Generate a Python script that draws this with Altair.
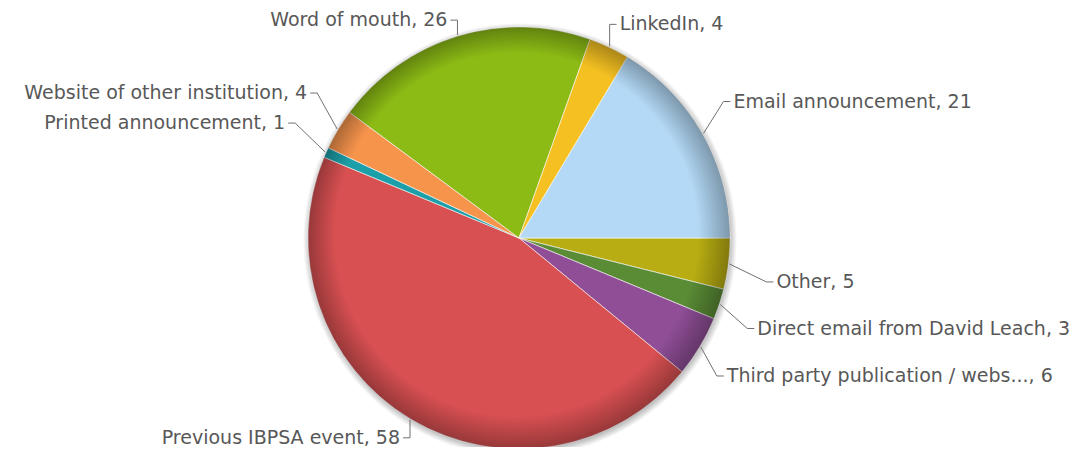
import math
import altair as alt
import pandas as pd

# ---------------- data ----------------
categories = [
    "Other",
    "Direct email from David Leach",
    "Third party publication / webs...",
    "Previous IBPSA event",
    "Printed announcement",
    "Website of other institution",
    "Word of mouth",
    "LinkedIn",
    "Email announcement",
]
values = [5, 3, 6, 58, 1, 4, 26, 4, 21]
colors = ["#b8ad12", "#5a8b35", "#8f4e96", "#d95052", "#1c9fa8",
          "#f7944c", "#8cbb15", "#f5c122", "#b3d9f6"]

# ---------------- layout ----------------
W, H = 1068, 439
CX, CY = 511, 230          # pie centre (chart coords)
R = 211                    # pie radius
START = math.pi / 2        # first slice starts at 3 o'clock, clockwise
STUB, GAP = 7, 3
FONT_SIZE = 19
# elbow of each leader line, relative to the slice's edge point
elbow_offset = {
    "Other": (37, 18),
    "Direct email from David Leach": (27, 24),
    "Third party publication / webs...": (16, 29),
    "Previous IBPSA event": (0, 18),
    "Printed announcement": (-30, -29),
    "Website of other institution": (-20, -36),
    "Word of mouth": (0, -15),
    "LinkedIn": (0, -22),
    "Email announcement": (20, -32),
}

total = sum(values)
rows, line_rows, text_rows = [], [], []
cum = 0.0
for i, (c, v) in enumerate(zip(categories, values)):
    rows.append({"category": c, "value": v, "idx": i})
    a = START + (cum + v / 2) / total * 2 * math.pi
    cum += v
    ex = CX + (R + 1) * math.sin(a)
    ey = CY - (R + 1) * math.cos(a)
    dx, dy = elbow_offset[c]
    bx, by = ex + dx, ey + dy
    side = 1 if math.sin(a) > 0 else -1
    sx = bx + side * STUB
    label = f"{c}, {v}"
    for k, (px, py) in enumerate([(ex, ey), (bx, by), (sx, by)]):
        line_rows.append({"label": label, "k": k, "x": px, "y": py})
    text_rows.append({"label": label, "x": sx + side * GAP, "y": by, "side": side})

df = pd.DataFrame(rows)
lines = pd.DataFrame(line_rows)
texts = pd.DataFrame(text_rows)
one = pd.DataFrame({"a": [1]})

xs = alt.Scale(domain=[0, W], range=[0, W], nice=False, zero=False)
ys = alt.Scale(domain=[0, H], range=[0, H], nice=False, zero=False)

shadow = alt.Chart(one).mark_arc(
    outerRadius=R + 6, theta=0, theta2=2 * math.pi,
    fill={"gradient": "radial", "x1": 0.5, "y1": 0.5, "r1": 0,
          "x2": 0.5, "y2": 0.5, "r2": 0.5,
          "stops": [{"offset": 0, "color": "rgba(0,0,0,0.35)"},
                    {"offset": 0.96, "color": "rgba(0,0,0,0.30)"},
                    {"offset": 1, "color": "rgba(0,0,0,0)"}]},
).encode(x=alt.value(CX + 1), y=alt.value(CY + 2))

pie = alt.Chart(df).mark_arc(
    outerRadius=R, stroke="#ffffff", strokeWidth=1, strokeOpacity=0.6
).encode(
    theta=alt.Theta("value:Q", stack=True,
                    scale=alt.Scale(range=[START, START + 2 * math.pi])),
    color=alt.Color("category:N",
                    scale=alt.Scale(domain=categories, range=colors),
                    legend=None),
    order=alt.Order("idx:Q"),
    x=alt.value(CX), y=alt.value(CY),
)

rim = alt.Chart(one).mark_arc(
    outerRadius=R, theta=0, theta2=2 * math.pi,
    fill={"gradient": "radial", "x1": 0.46, "y1": 0.44, "r1": 0,
          "x2": 0.5, "y2": 0.5, "r2": 0.5,
          "stops": [{"offset": 0, "color": "rgba(0,0,0,0)"},
                    {"offset": 0.86, "color": "rgba(0,0,0,0)"},
                    {"offset": 1, "color": "rgba(0,0,0,0.30)"}]},
).encode(x=alt.value(CX), y=alt.value(CY))

leaders = alt.Chart(lines).mark_line(color="#707070", strokeWidth=1).encode(
    x=alt.X("x:Q", scale=xs, axis=None),
    y=alt.Y("y:Q", scale=ys, axis=None),
    detail="label:N",
    order="k:Q",
)

tbase = alt.Chart(texts)
tenc = dict(x=alt.X("x:Q", scale=xs, axis=None),
            y=alt.Y("y:Q", scale=ys, axis=None),
            text="label:N")
right_txt = tbase.transform_filter("datum.side > 0").mark_text(
    align="left", baseline="middle", font="DejaVu Sans", fontSize=FONT_SIZE,
    color="#585858").encode(**tenc)
left_txt = tbase.transform_filter("datum.side < 0").mark_text(
    align="right", baseline="middle", font="DejaVu Sans", fontSize=FONT_SIZE,
    color="#585858").encode(**tenc)

chart = alt.layer(shadow, pie, rim, leaders, right_txt, left_txt).properties(
    width=W, height=H, padding=0, autosize="none"
).configure_view(stroke=None)

chart.save("out.html", embed_options={"renderer": "svg", "actions": False})
